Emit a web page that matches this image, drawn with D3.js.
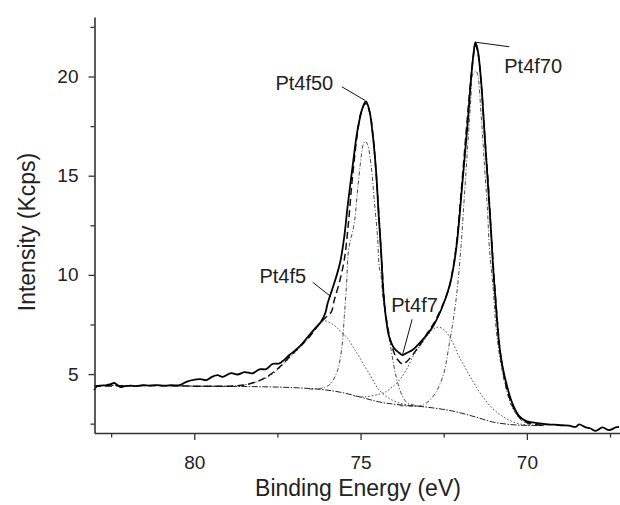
<!DOCTYPE html>
<html>
<head>
<meta charset="utf-8">
<script src="https://cdn.jsdelivr.net/npm/d3@7"></script>
<style>
  body { margin: 0; background: #fff; }
  svg text { font-family: "Liberation Sans", Arial, Helvetica, sans-serif; fill: #222; }
  .axis path, .axis line { stroke: #333; }
</style>
</head>
<body>
<svg id="chart" width="620" height="505"></svg>
<script>
// measured spectrum (binding energy eV, intensity Kcps)
var measured = [
  [83.01,4.19],[82.93,4.39],[82.81,4.42],[82.63,4.44],[82.51,4.49],[82.41,4.55],[82.30,4.44],
  [82.21,4.34],[82.09,4.39],[81.91,4.42],[81.73,4.39],[81.55,4.44],[81.34,4.42],[81.13,4.44],
  [80.89,4.42],[80.68,4.44],[80.44,4.44],[80.24,4.61],[79.94,4.73],[79.81,4.75],[79.64,4.70],
  [79.48,4.85],[79.30,4.95],[79.15,4.86],[78.89,5.05],[78.70,4.98],[78.49,5.10],[78.25,5.04],
  [78.04,5.24],[77.84,5.25],[77.65,5.51],[77.44,5.54],[77.14,5.96],[76.84,6.38],[76.54,6.97],
  [76.36,7.32],[76.19,7.64],[76.06,8.08],[75.99,8.57],[75.89,9.08],[75.76,9.75],[75.61,10.66],
  [75.49,11.93],[75.39,13.45],[75.24,15.47],[75.09,17.32],[74.94,18.42],[74.84,18.74],[74.74,18.33],
  [74.64,17.16],[74.53,15.14],[74.46,13.12],[74.38,11.10],[74.32,9.24],[74.23,7.73],[74.14,6.88],
  [73.99,6.30],[73.83,6.06],[73.74,5.96],[73.59,6.09],[73.44,6.21],[73.14,6.72],[72.83,7.39],
  [72.58,8.23],[72.33,9.41],[72.18,10.66],[72.08,11.97],[71.93,14.80],[71.78,17.66],[71.68,19.85],
  [71.60,21.20],[71.55,21.72],[71.48,21.36],[71.38,19.85],[71.28,17.32],[71.18,14.80],[71.08,12.27],
  [71.01,10.25],[70.92,8.23],[70.83,6.46],[70.74,5.45],[70.62,4.55],[70.44,3.54],[70.23,2.88],
  [70.02,2.63],[69.83,2.56],[69.43,2.47],[69.18,2.45],[68.94,2.42],[68.73,2.40],[68.53,2.34],
  [68.43,2.46],[68.23,2.31],[68.10,2.27],[67.93,2.14],[67.73,2.31],[67.53,2.17],[67.33,2.31],[67.23,2.34]
];

// fitted envelope
var envelope = [
  [83.01,4.39],[81.34,4.42],[79.84,4.39],[78.64,4.42],[78.14,4.61],[77.74,4.95],[77.44,5.35],
  [77.14,5.86],[76.84,6.36],[76.54,6.87],[76.19,7.63],[76.00,7.93],[75.88,8.13],[75.79,8.74],
  [75.64,9.60],[75.49,10.76],[75.37,12.53],[75.25,14.80],[75.10,17.07],[74.98,18.23],[74.86,18.64],
  [74.74,18.28],[74.63,17.07],[74.53,15.05],[74.44,12.78],[74.35,10.25],[74.26,8.23],[74.14,6.97],
  [74.02,6.21],[73.90,5.76],[73.74,5.51],[73.62,5.62],[73.48,5.87],[73.33,6.21],[73.18,6.55],
  [72.99,7.07],[72.81,7.53],[72.57,8.33],[72.36,9.24],[72.24,10.15],[72.12,11.52],[71.97,14.29],
  [71.82,17.32],[71.70,19.60],[71.61,21.01],[71.55,21.57],[71.48,21.26],[71.37,19.60],[71.27,17.07],
  [71.16,14.55],[71.07,12.02],[70.98,9.75],[70.89,7.73],[70.80,6.11],[70.71,5.10],[70.59,4.19],
  [70.44,3.43],[70.23,2.83],[70.02,2.58],[69.78,2.47],[69.48,2.42]
];

// Shirley background
var background = [
  [83.01,4.42],[81.34,4.42],[79.84,4.39],[78.34,4.37],[77.24,4.33],[76.21,4.23],[75.59,4.08],
  [74.96,3.82],[74.45,3.60],[73.93,3.47],[73.10,3.35],[72.27,3.15],[71.55,2.84],[71.04,2.59],
  [70.52,2.46],[70.00,2.41],[69.48,2.40]
];

// fitted components (drawn on top of background)
var pt4f5 = [
  [79.84,4.39],[79.24,4.39],[78.64,4.42],[78.14,4.60],[77.74,4.90],[77.44,5.30],[77.14,5.81],
  [76.84,6.31],[76.54,6.87],[76.30,7.37],[76.09,7.68],[75.91,7.58],[75.74,7.39],[75.58,7.12],
  [75.39,6.80],[75.22,6.36],[75.04,5.87],[74.86,5.35],[74.68,4.86],[74.56,4.49],[74.44,4.19],
  [74.29,3.96],[74.14,3.77],[73.83,3.54],[73.53,3.43],[73.23,3.36]
];
var pt4f50 = [
  [76.54,4.24],[76.24,4.27],[76.04,4.36],[75.89,4.53],[75.69,5.20],[75.56,6.38],[75.49,7.89],
  [75.42,9.58],[75.36,11.26],[75.19,12.61],[75.09,14.29],[74.98,15.97],[74.92,16.57],[74.86,16.73],
  [74.79,16.57],[74.68,15.47],[74.59,13.79],[74.49,11.93],[74.44,10.42],[74.39,10.0],[74.32,8.74],
  [74.23,7.89],[74.08,6.21],[73.93,4.86],[73.78,4.03],[73.63,3.60],[73.38,3.43],[73.08,3.36]
];
var pt4f7 = [
  [75.19,3.89],[74.84,3.86],[74.44,3.99],[74.24,4.11],[74.04,4.36],[73.83,4.70],[73.63,5.20],
  [73.43,5.87],[73.23,6.38],[72.93,7.06],[72.78,7.30],[72.66,7.37],[72.48,7.22],[72.27,6.72],
  [72.06,5.96],[71.85,5.30],[71.61,4.60],[71.34,3.89],[71.04,3.28],[70.74,2.88],[70.47,2.63],
  [70.17,2.47],[69.87,2.42]
];
var pt4f70 = [
  [73.83,3.41],[73.53,3.38],[73.14,3.43],[72.83,3.85],[72.53,4.86],[72.33,6.55],[72.13,8.74],
  [71.98,11.43],[71.88,13.95],[71.78,16.48],[71.68,19.01],[71.64,20.05],[71.53,20.27],[71.48,20.10],
  [71.38,18.17],[71.28,15.64],[71.18,13.12],[71.13,11.43],[71.01,9.24],[70.92,7.22],[70.80,5.71],
  [70.65,4.44],[70.47,3.43],[70.23,2.78],[70.02,2.53],[69.78,2.42]
];

// annotations: text start, then leader line from/to
var labels = [
  {text: "Pt4f50", at: [77.56, 19.34], from: [75.56, 19.48], to: [74.86, 18.79]},
  {text: "Pt4f70", at: [70.68, 20.20], from: [71.55, 21.73], to: [70.53, 21.50]},
  {text: "Pt4f5",  at: [78.04, 9.60],  from: [76.44, 9.63],  to: [75.89, 8.90]},
  {text: "Pt4f7",  at: [74.08, 8.15],  from: [73.45, 7.76],  to: [73.74, 5.96]}
];

var xMajor = [80, 75, 70];
var xMinor = [82.5, 77.5, 72.5, 67.5];
var yMajor = [5, 10, 15, 20];
var yMinor = [2.5, 7.5, 12.5, 17.5, 22.5];

var svg = d3.select("#chart");

var x = d3.scaleLinear().domain([83, 67.2]).range([94.5, 620]);
var y = d3.scaleLinear().domain([2.03, 23]).range([433, 17]);

var line = d3.line()
    .x(d => x(d[0]))
    .y(d => y(d[1]))
    .curve(d3.curveCatmullRom.alpha(0.5));

// background + components
svg.append("path").datum(background)
    .attr("d", line).attr("fill", "none")
    .attr("stroke", "#222").attr("stroke-width", 1)
    .attr("stroke-dasharray", "6,1.5,1.5,1.5");

svg.append("path").datum(pt4f5)
    .attr("d", line).attr("fill", "none")
    .attr("stroke", "#333").attr("stroke-width", 0.9)
    .attr("stroke-dasharray", "1.5,2");
svg.append("path").datum(pt4f7)
    .attr("d", line).attr("fill", "none")
    .attr("stroke", "#333").attr("stroke-width", 0.9)
    .attr("stroke-dasharray", "1.5,2");
svg.append("path").datum(pt4f50)
    .attr("d", line).attr("fill", "none")
    .attr("stroke", "#333").attr("stroke-width", 0.9)
    .attr("stroke-dasharray", "4,2,1,2");
svg.append("path").datum(pt4f70)
    .attr("d", line).attr("fill", "none")
    .attr("stroke", "#333").attr("stroke-width", 0.9)
    .attr("stroke-dasharray", "4,2,1,2");

// envelope
svg.append("path").datum(envelope)
    .attr("d", line).attr("fill", "none")
    .attr("stroke", "#111").attr("stroke-width", 1.5)
    .attr("stroke-dasharray", "7,4");

// measured
svg.append("path").datum(measured)
    .attr("d", line).attr("fill", "none")
    .attr("stroke", "#000").attr("stroke-width", 1.8);

// axes
svg.append("g").attr("class", "axis")
    .attr("transform", "translate(0,433)")
    .call(d3.axisBottom(x).tickValues(xMajor).tickSize(7).tickPadding(16).tickSizeOuter(0));
svg.append("g").attr("class", "axis")
    .attr("transform", "translate(0,433)")
    .call(d3.axisBottom(x).tickValues(xMinor).tickSize(4.5).tickFormat("").tickSizeOuter(0))
    .select(".domain").remove();

svg.append("g").attr("class", "axis")
    .attr("transform", "translate(94.5,0)")
    .call(d3.axisLeft(y).tickValues(yMajor).tickSize(6).tickPadding(10).tickSizeOuter(0));
svg.append("g").attr("class", "axis")
    .attr("transform", "translate(94.5,0)")
    .call(d3.axisLeft(y).tickValues(yMinor).tickSize(4).tickFormat("").tickSizeOuter(0))
    .select(".domain").remove();

svg.selectAll(".axis .domain").attr("stroke-width", 1.6);
svg.selectAll(".axis .tick line").attr("stroke-width", 1.3);
svg.selectAll(".axis text").style("font-size", "19px").style("font-family", "'Liberation Sans', Arial, sans-serif").attr("fill", "#222");

// axis titles
svg.append("text")
    .attr("x", 358).attr("y", 496)
    .attr("text-anchor", "middle")
    .style("font-size", "23px")
    .text("Binding Energy (eV)");

svg.append("text")
    .attr("transform", "translate(35,232) rotate(-90)")
    .attr("text-anchor", "middle")
    .style("font-size", "23px")
    .text("Intensity (Kcps)");

// peak labels
labels.forEach(function(l) {
  svg.append("line")
      .attr("x1", x(l.from[0])).attr("y1", y(l.from[1]))
      .attr("x2", x(l.to[0])).attr("y2", y(l.to[1]))
      .attr("stroke", "#111").attr("stroke-width", 1);
  svg.append("text")
      .attr("x", x(l.at[0])).attr("y", y(l.at[1]))
      .style("font-size", "20px")
      .text(l.text);
});
</script>
</body>
</html>
